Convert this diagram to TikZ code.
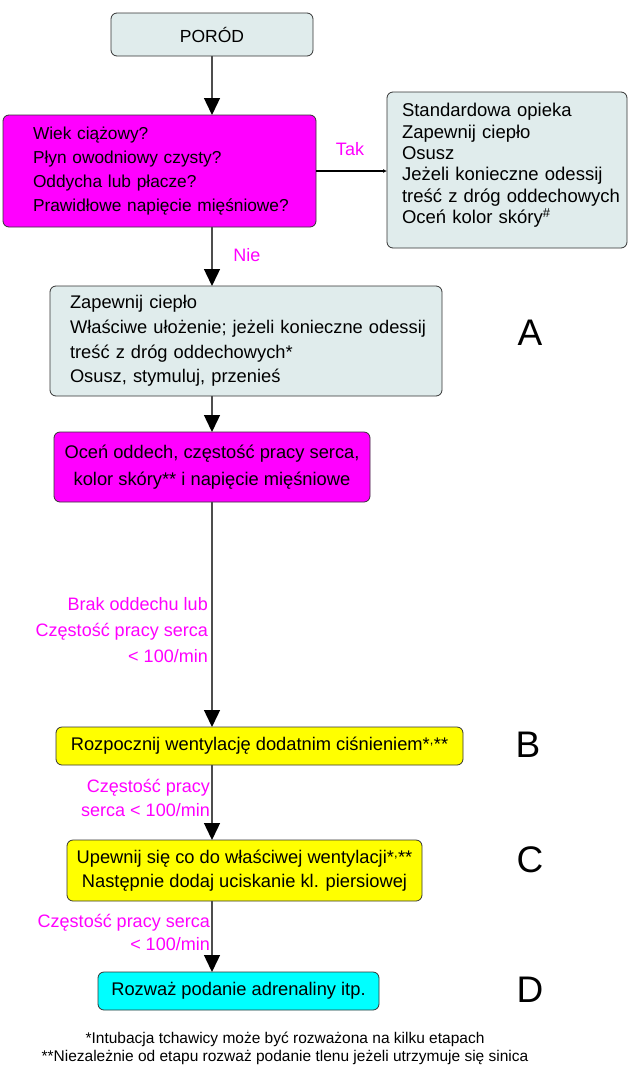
\documentclass[tikz,border=0pt]{standalone}
\usepackage{fontspec}
\setmainfont{Liberation Sans}
\usetikzlibrary{arrows.meta}
\definecolor{boxgray}{HTML}{E0ECEC}
\definecolor{mag}{HTML}{FF00FF}
\definecolor{yel}{HTML}{FFFF00}
\definecolor{cya}{HTML}{00FFFF}
\definecolor{edgec}{HTML}{333333}
\definecolor{connc}{HTML}{4D4D4D}
\newcommand\fsz[2]{\fontsize{#1}{#2}\selectfont}
\begin{document}
\begin{tikzpicture}[x=1pt,y=-1pt,
  box/.style={draw=edgec, line width=0.8pt, rounded corners=6pt, inner sep=0pt, outer sep=0pt},
  conn/.style={draw=connc, line width=1.4pt, -{Triangle[width=16pt,length=17pt,fill=black,color=black]}},
  takline/.style={draw=black, line width=2pt, -{Latex[length=4pt,width=4pt]}},
  lab/.style={text=mag, inner sep=0pt, font=\fsz{18}{26}},
  letter/.style={inner sep=0pt, font=\fsz{37}{40}}
]
\useasboundingbox (0,0) rectangle (630,1066);

% boxes
\node[box, fill=boxgray, minimum width=202, minimum height=43, font=\fsz{17.5}{20}] (p) at (212,34.5) {PORÓD};

\node[box, fill=mag, minimum width=313, minimum height=112, text width=253, inner xsep=30, align=left, font=\fsz{17.3}{24.3}] (q) at (159.5,171)
  {\mbox{Wiek ciążowy?}\\\mbox{Płyn owodniowy czysty?}\\\mbox{Oddycha lub płacze?}\\\mbox{Prawidłowe napięcie mięśniowe?}};

\node[box, fill=boxgray, minimum width=240, minimum height=156, text width=210, inner xsep=15, align=left, text depth=120pt, font=\fsz{18.5}{21.4}] (s) at (507,170)
  {\mbox{Standardowa opieka}\\\mbox{Zapewnij ciepło}\\Osusz\\\mbox{Jeżeli konieczne odessij}\\\mbox{treść z dróg oddechowych}\\\mbox{Oceń kolor skóry\textsuperscript{\#}}};

\node[box, fill=boxgray, minimum width=392, minimum height=110, text width=352, inner xsep=20, align=left, font=\fsz{18.3}{24.7}] (A) at (246,341)
  {\mbox{Zapewnij ciepło}\\\mbox{Właściwe ułożenie; jeżeli konieczne odessij}\\\mbox{treść z dróg oddechowych*}\\\mbox{Osusz, stymuluj, przenieś}};

\node[box, fill=mag, minimum width=316, minimum height=70, align=center, font=\fsz{18.3}{27}] (m) at (212,467)
  {Oceń oddech, częstość pracy serca,\\kolor skóry** i napięcie mięśniowe};

\node[box, fill=yel, minimum width=407, minimum height=38, font=\fsz{18.3}{22}] (b) at (259.5,746)
  {Rozpocznij wentylację dodatnim ciśnieniem*\textsuperscript{,}**};

\node[box, fill=yel, minimum width=355, minimum height=61, align=center, font=\fsz{18.3}{24}] (c) at (244.5,870.5)
  {Upewnij się co do właściwej wentylacji*\textsuperscript{,}**\\Następnie dodaj uciskanie kl. piersiowej};

\node[box, fill=cya, minimum width=281, minimum height=38, font=\fsz{18.3}{22}] (d) at (238.5,991)
  {Rozważ podanie adrenaliny itp.};

% letters
\node[letter] (la) at (530,333) {A};
\node[letter] (lb) at (528,745) {B};
\node[letter] (lc) at (530,860) {C};
\node[letter] (ld) at (530,990) {D};

% connectors
\draw[conn] (p.south) -- (q.north -| p.south);
\draw[takline] (q.east) -- (s.west |- q.east);
\draw[conn] (q.south -| p.south) -- (A.north -| p.south);
\draw[conn] (A.south -| p.south) -- (m.north -| p.south);
\draw[conn] (m.south -| p.south) -- (b.north -| p.south);
\draw[conn] (b.south -| p.south) -- (c.north -| p.south);
\draw[conn] (c.south -| p.south) -- (d.north -| p.south);

% labels
\node[lab] (tak) at (350,149) {Tak};
\node[lab] (nie) at (247,255) {Nie};
\node[lab, anchor=east, align=right, font=\fsz{18}{26}] (l1) at (208,630) {Brak oddechu lub\\Częstość pracy serca\\< 100/min};
\node[lab, anchor=east, align=right, font=\fsz{18}{24}] (l2) at (210,798) {Częstość pracy\\serca < 100/min};
\node[lab, anchor=east, align=right, font=\fsz{18}{23}] (l3) at (210,932.5) {Częstość pracy serca\\< 100/min};

% footnotes
\node[inner sep=0pt, align=center, font=\fsz{15.5}{18}] (fn) at (285,1048)
  {*Intubacja tchawicy może być rozważona na kilku etapach\\**Niezależnie od etapu rozważ podanie tlenu jeżeli utrzymuje się sinica};
\end{tikzpicture}
\end{document}
